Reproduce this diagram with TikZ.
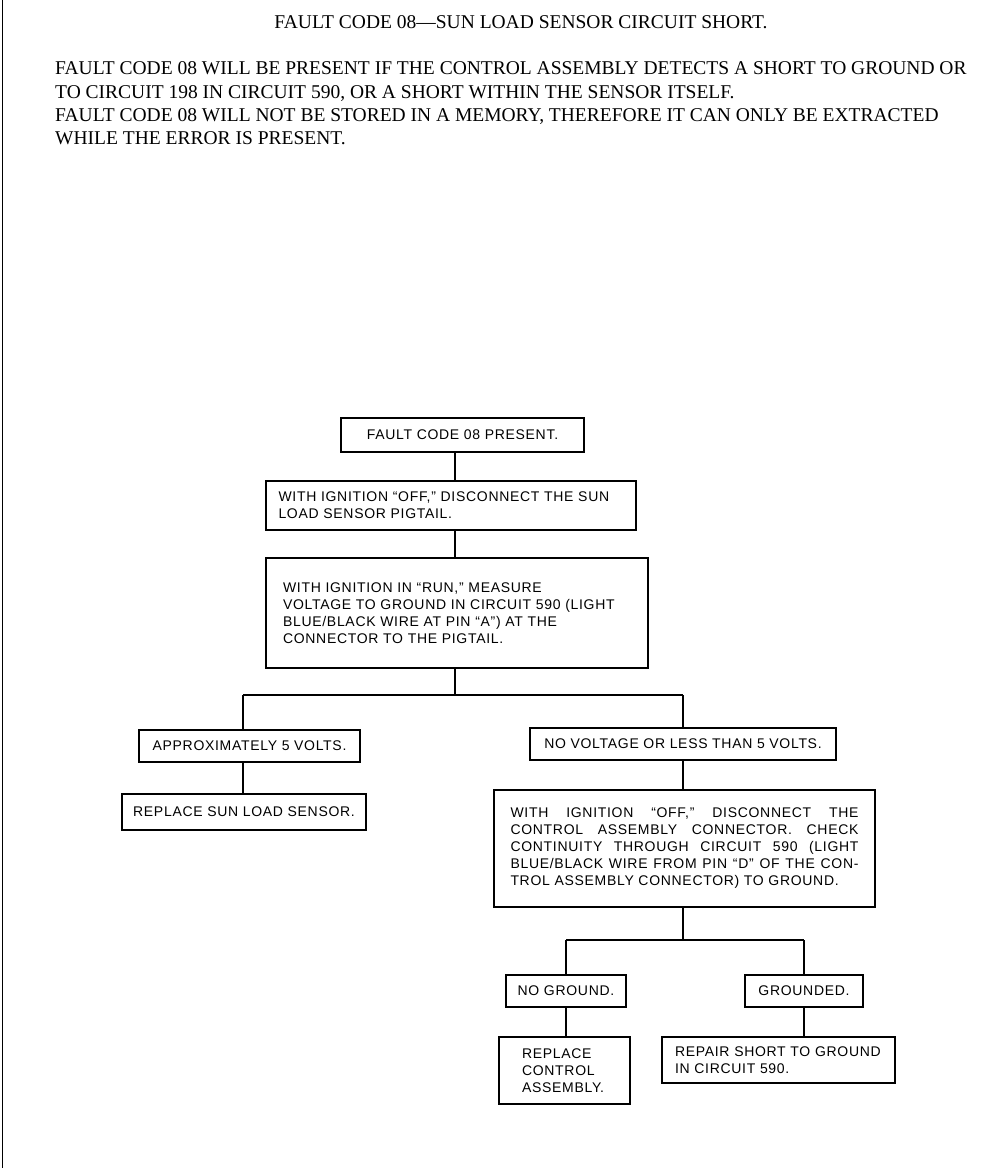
\documentclass[tikz,border=0pt]{standalone}
\usepackage{fontspec}
\setmainfont{Liberation Serif}
\setsansfont{Liberation Sans}
\newfontfamily\boxfont[LetterSpace=5]{Liberation Sans}
\usetikzlibrary{positioning}
\tikzset{
	stepbox/.style={draw,line width=1.2pt,inner xsep=0pt,inner ysep=0pt,
		font=\boxfont\fontsize{14}{17}\selectfont,align=left},
	headtext/.style={font=\fontsize{19.5}{24}\selectfont,inner sep=0pt,align=left},
	flow/.style={line width=1.2pt}
}
\begin{document}
\begin{tikzpicture}[x=1pt,y=-1pt]
	\useasboundingbox (0,0) rectangle (1008,1168);
	\draw[line width=1pt] (2,0) -- (2,1168);

	% heading
	\node[headtext,anchor=base] (title) at (521,28) {FAULT CODE 08---SUN LOAD SENSOR CIRCUIT SHORT.};
	\node[headtext,anchor=base west] (para1) at (55,98) {FAULT CODE 08 WILL BE PRESENT IF THE CONTROL ASSEMBLY DETECTS A SHORT TO GROUND OR\\
		TO CIRCUIT 198 IN CIRCUIT 590, OR A SHORT WITHIN THE SENSOR ITSELF.};
	\node[headtext,anchor=base west,font=\fontsize{19.5}{23}\selectfont] (para2) at (55,144) {FAULT CODE 08 WILL NOT BE STORED IN A MEMORY, THEREFORE IT CAN ONLY BE EXTRACTED\\
		WHILE THE ERROR IS PRESENT.};

	% boxes
	\node[stepbox,minimum width=243pt,minimum height=34pt,align=center] (present) at (462.5,435) {FAULT CODE 08 PRESENT.};
	\node[stepbox,minimum width=370pt,minimum height=49pt,text width=345pt] (ignoff) at (451,505.5)
		{WITH IGNITION “OFF,” DISCONNECT THE SUN\\ LOAD SENSOR PIGTAIL.};
	\node[stepbox,minimum width=382pt,minimum height=110pt,text width=348pt] (run) at (457,613)
		{WITH IGNITION IN “RUN,” MEASURE\\ VOLTAGE TO GROUND IN CIRCUIT 590 (LIGHT\\ BLUE/BLACK WIRE AT PIN “A”) AT THE\\ CONNECTOR TO THE PIGTAIL.};
	\node[stepbox,minimum width=221pt,minimum height=32pt,align=center] (fivevolts) at (249.5,746) {APPROXIMATELY 5 VOLTS.};
	\node[stepbox,minimum width=244pt,minimum height=36pt,align=center] (replsensor) at (244,812) {REPLACE SUN LOAD SENSOR.};
	\node[stepbox,minimum width=306pt,minimum height=32pt,align=center] (novolts) at (683,744) {NO VOLTAGE OR LESS THAN 5 VOLTS.};
	\node[stepbox,minimum width=381pt,minimum height=117pt,text width=348pt,align=justify] (contin) at (684.5,848.5)
		{WITH IGNITION “OFF,” DISCONNECT THE\linebreak
		CONTROL ASSEMBLY CONNECTOR. CHECK\linebreak
		CONTINUITY THROUGH CIRCUIT 590 (LIGHT\linebreak
		BLUE/BLACK WIRE FROM PIN “D” OF THE CON-\linebreak
		TROL ASSEMBLY CONNECTOR) TO GROUND.};
	\node[stepbox,minimum width=120pt,minimum height=32pt,align=center] (noground) at (566,991) {NO GROUND.};
	\node[stepbox,minimum width=118pt,minimum height=32pt,align=center] (grounded) at (804,991) {GROUNDED.};
	\node[stepbox,minimum width=131pt,minimum height=67pt,text width=85pt] (replctrl) at (564.5,1070.5)
		{REPLACE\\ CONTROL\\ ASSEMBLY.};
	\node[stepbox,minimum width=233pt,minimum height=46pt,text width=207pt] (repair) at (778.5,1060)
		{REPAIR SHORT TO GROUND\\ IN CIRCUIT 590.};

	% connectors
	\coordinate (trunk) at (455,0);
	\coordinate (split) at (455,695);
	\coordinate (leftbr) at (243,695);
	\coordinate (rightbr) at (683,695);
	\coordinate (split2) at (683,940);
	\coordinate (nogbr) at (566,940);
	\coordinate (grbr) at (804,940);
	\draw[flow] (present.south -| trunk) -- (ignoff.north -| trunk);
	\draw[flow] (ignoff.south -| trunk) -- (run.north -| trunk);
	\draw[flow] (run.south -| trunk) -- (split);
	\draw[flow] (leftbr) -- (rightbr);
	\draw[flow] (leftbr) -- (fivevolts.north -| leftbr);
	\draw[flow] (fivevolts.south -| leftbr) -- (replsensor.north -| leftbr);
	\draw[flow] (rightbr) -- (novolts.north);
	\draw[flow] (novolts.south) -- (contin.north -| novolts);
	\draw[flow] (contin.south -| split2) -- (split2);
	\draw[flow] (nogbr) -- (grbr);
	\draw[flow] (nogbr) -- (noground.north);
	\draw[flow] (grbr) -- (grounded.north);
	\draw[flow] (noground.south) -- (replctrl.north -| noground);
	\draw[flow] (grounded.south) -- (repair.north -| grounded);
\end{tikzpicture}
\end{document}
